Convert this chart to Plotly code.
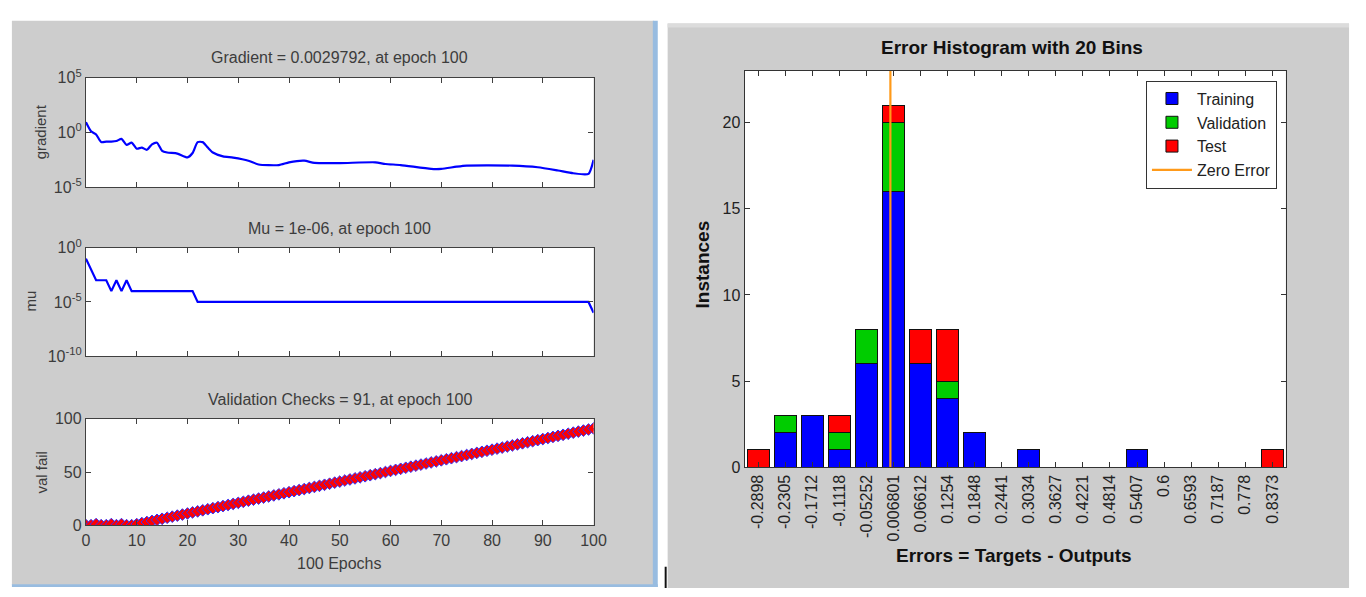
import plotly.graph_objects as go

# ---------------- data ----------------
grad_epochs = [0, 1, 2, 3, 4, 5, 6, 7, 8, 9, 10, 11, 12, 13, 14, 15, 16, 18, 20, 21,
               22, 23, 24, 25, 27, 29, 32, 34, 38, 40, 43, 45, 50, 57, 59, 62, 68, 70,
               73, 75, 84, 89, 93, 96, 99, 100]
grad_values = [8.51, 1.26, 0.631, 0.126, 0.141, 0.141, 0.158, 0.251, 0.0708, 0.112,
               0.0316, 0.0398, 0.0251, 0.0794, 0.112, 0.0200, 0.0141, 0.0112, 0.00501,
               0.0126, 0.126, 0.126, 0.0398, 0.0141, 0.00631, 0.00479, 0.00251, 0.00112,
               0.00100, 0.00178, 0.00251, 0.00158, 0.00151, 0.00178, 0.00126, 0.00100,
               0.000447, 0.000447, 0.000708, 0.000891, 0.000891, 0.000631, 0.000316,
               0.000178, 0.000158, 0.0029792]

mu_epochs = [0, 1, 2, 3, 4, 5, 6, 7, 8, 9, 21, 22, 99, 100]
mu_values = [1e-1, 1e-2, 1e-3, 1e-3, 1e-3, 1e-4, 1e-3, 1e-4, 1e-3, 1e-4, 1e-4, 1e-5, 1e-5, 1e-6]

val_epochs = list(range(0, 101))
val_fail = [0, 0, 1, 0, 0, 1, 0, 1, 0, 0,
            1, 2, 3, 4, 5, 6, 7, 8, 9, 10,
            11, 12, 13, 14, 15, 16, 17, 18, 19, 20,
            21, 22, 23, 24, 25, 26, 27, 28, 29, 30,
            31, 32, 33, 34, 35, 36, 37, 38, 39, 40,
            41, 42, 43, 44, 45, 46, 47, 48, 49, 50,
            51, 52, 53, 54, 55, 56, 57, 58, 59, 60,
            61, 62, 63, 64, 65, 66, 67, 68, 69, 70,
            71, 72, 73, 74, 75, 76, 77, 78, 79, 80,
            81, 82, 83, 84, 85, 86, 87, 88, 89, 90,
            91]

bin_labels = ["-0.2898", "-0.2305", "-0.1712", "-0.1118", "-0.05252", "0.006801",
              "0.06612", "0.1254", "0.1848", "0.2441", "0.3034", "0.3627", "0.4221",
              "0.4814", "0.5407", "0.6", "0.6593", "0.7187", "0.778", "0.8373"]
training   = [0, 2, 3, 1, 6, 16, 6, 4, 2, 0, 1, 0, 0, 0, 1, 0, 0, 0, 0, 0]
validation = [0, 1, 0, 1, 2, 4, 0, 1, 0, 0, 0, 0, 0, 0, 0, 0, 0, 0, 0, 0]
test       = [1, 0, 0, 1, 0, 1, 2, 3, 0, 0, 0, 0, 0, 0, 0, 0, 0, 0, 0, 1]
hist_ymax = 23

# ---------------- layout helpers ----------------
W, H = 1366, 597
def px(x):
    return x / W
def py(y):
    return 1 - y / H

FONT = "Liberation Sans, Arial, Helvetica, sans-serif"
LEFT_TXT = "#3c3c3c"
AX_COL = "#404040"

centers = [float(s) for s in bin_labels]
spacing = (centers[-1] - centers[0]) / (len(centers) - 1)
bar_w = 0.8 * spacing

def nz(v):
    return [c if c != 0 else None for c in v]

fig = go.Figure()

fig.add_trace(go.Scatter(x=grad_epochs, y=grad_values, mode="lines",
                         line=dict(color="#0000FF", width=2.2, shape="spline", smoothing=0.6),
                         xaxis="x", yaxis="y", showlegend=False))
fig.add_trace(go.Scatter(x=mu_epochs, y=mu_values, mode="lines",
                         line=dict(color="#0000FF", width=2.2),
                         xaxis="x2", yaxis="y2", showlegend=False))
fig.add_trace(go.Scatter(x=val_epochs, y=val_fail, mode="lines+markers",
                         line=dict(color="#0000FF", width=1),
                         marker=dict(symbol="diamond", size=9, color="#FF0000",
                                     line=dict(color="#3030FF", width=1)),
                         xaxis="x3", yaxis="y3", showlegend=False))

for name, vals, col in [("Training", training, "#0000FF"),
                        ("Validation", validation, "#00CC00"),
                        ("Test", test, "#FF0000")]:
    fig.add_trace(go.Bar(x=centers, y=nz(vals), name=name, width=bar_w,
                         marker=dict(color=col, line=dict(color="#111111", width=1)),
                         xaxis="x4", yaxis="y4"))
fig.add_trace(go.Scatter(x=[0, 0], y=[0, hist_ymax], mode="lines", name="Zero Error",
                         line=dict(color="#FF9A1A", width=2.2),
                         xaxis="x4", yaxis="y4"))

left_dom = [px(83), px(597)]
common_left_x = dict(range=[0, 100], tickvals=list(range(0, 101, 10)), ticks="inside",
                     ticklen=5, tickcolor=AX_COL, showline=True, linecolor=AX_COL,
                     linewidth=1.3, mirror="ticks", showgrid=False, zeroline=False,
                     domain=left_dom, tickfont=dict(size=16, color=LEFT_TXT, family=FONT))
common_left_y = dict(ticks="inside", ticklen=5, tickcolor=AX_COL, showline=True,
                     linecolor=AX_COL, linewidth=1.3, mirror="ticks", showgrid=False,
                     zeroline=False, tickfont=dict(size=16, color=LEFT_TXT, family=FONT))

shapes = [
    # grey panels
    dict(type="rect", xref="paper", yref="paper", x0=px(8), x1=px(658), y0=py(594), y1=py(10),
         fillcolor="#CDCDCD", line=dict(width=0), layer="below"),
    dict(type="rect", xref="paper", yref="paper", x0=px(672), x1=px(1362), y0=py(597), y1=py(13),
         fillcolor="#CDCDCD", line=dict(width=0), layer="below"),
    dict(type="rect", xref="paper", yref="paper", x0=px(672), x1=px(1362), y0=py(17), y1=py(13),
         fillcolor="#DCDCDC", line=dict(width=0), layer="below"),
    # blue window borders
    dict(type="rect", xref="paper", yref="paper", x0=px(657), x1=px(662), y0=py(596), y1=py(10),
         fillcolor="#98BCE0", line=dict(width=0), layer="below"),
    dict(type="rect", xref="paper", yref="paper", x0=px(8), x1=px(662), y0=py(596), y1=py(593),
         fillcolor="#98BCE0", line=dict(width=0), layer="below"),
    dict(type="rect", xref="paper", yref="paper", x0=px(669), x1=px(671), y0=py(597), y1=py(575),
         fillcolor="#111111", line=dict(width=0), layer="below"),
]
# white plot areas
for (x0, x1, y0, y1) in [(83, 597, 69, 182), (83, 597, 245, 357), (83, 597, 422, 532),
                         (750, 1298, 62, 472)]:
    shapes.append(dict(type="rect", xref="paper", yref="paper", x0=px(x0), x1=px(x1),
                       y0=py(y1), y1=py(y0), fillcolor="#FFFFFF", line=dict(width=0),
                       layer="below"))

def ann(text, x, y, size, color, bold=False, angle=0):
    t = f"<b>{text}</b>" if bold else text
    return dict(text=t, x=px(x), y=py(y), xref="paper", yref="paper", showarrow=False,
                xanchor="center", yanchor="middle", textangle=angle,
                font=dict(size=size, color=color, family=FONT))

annotations = [
    ann("Gradient = 0.0029792, at epoch 100", 340, 48, 16, LEFT_TXT),
    ann("Mu = 1e-06, at epoch 100", 340, 225, 16, LEFT_TXT),
    ann("Validation Checks = 91, at epoch 100", 340, 402, 16, LEFT_TXT),
    ann("100 Epochs", 340, 572, 16, LEFT_TXT),
    ann("gradient", 37, 125, 15, LEFT_TXT, angle=-90),
    ann("mu", 27, 300, 15, LEFT_TXT, angle=-90),
    ann("val fail", 37, 477, 15, LEFT_TXT, angle=-90),
    ann("Error Histogram with 20 Bins", 1021, 38, 19, "#111111", bold=True),
    ann("Errors = Targets - Outputs", 1023, 563, 19, "#111111", bold=True),
    ann("Instances", 707, 262, 19, "#111111", bold=True, angle=-90),
]

fig.update_layout(
    width=W, height=H, margin=dict(l=0, r=0, t=0, b=0),
    paper_bgcolor="#FFFFFF", plot_bgcolor="rgba(0,0,0,0)",
    font=dict(family=FONT),
    barmode="stack",
    xaxis=dict(common_left_x, anchor="y", showticklabels=False),
    yaxis=dict(common_left_y, anchor="x", type="log", range=[-5, 5],
               domain=[py(182), py(69)], tickvals=[1e-5, 1, 1e5],
               ticktext=["10<sup>-5</sup>", "10<sup>0</sup>", "10<sup>5</sup>"]),
    xaxis2=dict(common_left_x, anchor="y2", showticklabels=False),
    yaxis2=dict(common_left_y, anchor="x2", type="log", range=[-10, 0],
                domain=[py(357), py(245)], tickvals=[1e-10, 1e-5, 1],
                ticktext=["10<sup>-10</sup>", "10<sup>-5</sup>", "10<sup>0</sup>"]),
    xaxis3=dict(common_left_x, anchor="y3", showticklabels=True),
    yaxis3=dict(common_left_y, anchor="x3", range=[0, 100], domain=[py(532), py(422)],
                tickvals=[0, 50, 100]),
    xaxis4=dict(anchor="y4", domain=[px(750), px(1298)],
                range=[centers[0] - spacing / 2, centers[-1] + spacing / 2],
                tickvals=centers, ticktext=bin_labels, tickangle=-90,
                ticks="inside", ticklen=5, tickcolor="#333333", showline=True,
                linecolor="#333333", linewidth=1.3, mirror="ticks", showgrid=False,
                zeroline=False, tickfont=dict(size=16, color="#222222", family=FONT)),
    yaxis4=dict(anchor="x4", domain=[py(472), py(62)], range=[0, hist_ymax],
                tickvals=[0, 5, 10, 15, 20], ticks="inside", ticklen=5,
                tickcolor="#333333", showline=True, linecolor="#333333", linewidth=1.3,
                mirror="ticks", showgrid=False, zeroline=False,
                tickfont=dict(size=16, color="#222222", family=FONT)),
    legend=dict(x=px(1289), y=py(72), xanchor="right", yanchor="top",
                bgcolor="#FFFFFF", bordercolor="#333333", borderwidth=1,
                traceorder="normal", font=dict(size=16, color="#222222", family=FONT),
                tracegroupgap=0, itemwidth=40),
    shapes=shapes,
    annotations=annotations,
)

fig.write_html("out.html", config={"displayModeBar": False},
               post_script="document.body.style.margin='0';document.body.style.overflow='hidden';")
